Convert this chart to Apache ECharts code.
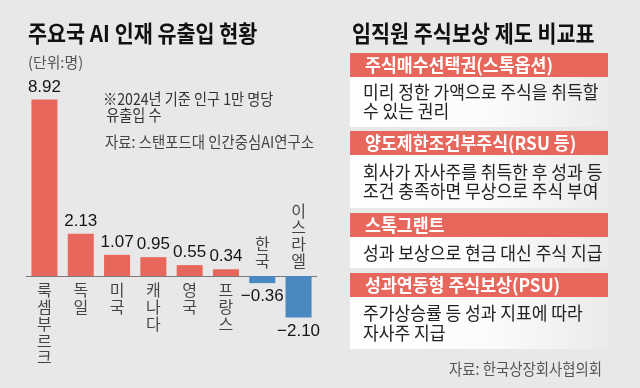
<!DOCTYPE html>
<html><head><meta charset="utf-8">
<script src="https://cdn.jsdelivr.net/npm/echarts@6/dist/echarts.min.js"></script>
<style>html,body{margin:0;padding:0;background:#e8e8e8}#c{width:640px;height:388px}</style>
</head><body><div id="c"></div>
<script>
const categories = ['룩셈부르크','독일','미국','캐나다','영국','프랑스','한국','이스라엘'];
const values = [8.92, 2.13, 1.07, 0.95, 0.55, 0.34, -0.36, -2.10];
const leftTitle = '주요국 AI 인재 유출입 현황';
const unitText = '(단위:명)';
const noteLines = ['※2024년 기준 인구 1만 명당', ' 유출입 수'];
const leftSource = '자료: 스탠포드대 인간중심AI연구소';
const rightTitle = '임직원 주식보상 제도 비교표';
const tableHeaders = ['주식매수선택권(스톡옵션)','양도제한조건부주식(RSU 등)','스톡그랜트','성과연동형 주식보상(PSU)'];
const tableBodies = [
  ['미리 정한 가액으로 주식을 취득할','수 있는 권리'],
  ['회사가 자사주를 취득한 후 성과 등','조건 충족하면 무상으로 주식 부여'],
  ['성과 보상으로 현금 대신 주식 지급'],
  ['주가상승률 등 성과 지표에 따라','자사주 지급']
];
const rightSource = '자료: 한국상장회사협의회';

const KR = '"Noto Sans CJK KR", "Noto Sans", sans-serif';
const NUM = '"Liberation Sans", Arial, sans-serif';
const RED = '#e8675c', BLUE = '#4a88c2';

const chart = echarts.init(document.getElementById('c'), null, {renderer:'canvas'});

const fmt = v => (v < 0 ? '\u2212' : '') + Math.abs(v).toFixed(2);

const barData = values.map(v => ({
  value: v,
  itemStyle: {color: v >= 0 ? RED : BLUE},
  label: {position: v >= 0 ? 'top' : 'bottom', distance: v >= 0 ? 4 : 5}
}));
const catLabelData = categories.map((c, i) => ({
  value: [i, 0],
  label: {position: values[i] >= 0 ? 'bottom' : 'top', distance: values[i] >= 0 ? 6 : 7}
}));

const graphics = [];
function txt(x, y, text, size, color, weight, sx, align) {
  graphics.push({type:'text', x:x, y:y, scaleX: sx || 1, silent:true,
    style:{x:0, y:0, text:text, fill:color, font:(weight||'normal')+' '+size+'px '+KR,
      textAlign: align||'left', textVerticalAlign:'middle'}});
}
txt(28, 33, leftTitle, 23, '#111', 'bold', 0.9);
txt(28, 62, unitText, 15, '#555', 'normal', 0.99);
txt(103, 99, noteLines[0], 16, '#333', 'normal', 0.885);
txt(103, 115, noteLines[1], 16, '#333', 'normal', 0.885);
txt(105, 142, leftSource, 16, '#444', 'normal', 0.9);
txt(352, 33, rightTitle, 23, '#111', 'bold', 0.9);

const boxX = 350, boxW = 258;
const layout = [
  {h:53, b:77, e:127, lines:[92,111]},
  {h:131, b:155, e:208, lines:[172,191]},
  {h:213, b:237, e:268, lines:[253]},
  {h:273, b:297, e:349, lines:[313,333]}
];
layout.forEach((L, i) => {
  graphics.push({type:'rect', silent:true, shape:{x:boxX, y:L.h, width:boxW, height:L.b-L.h}, style:{fill:RED}});
  graphics.push({type:'rect', silent:true, shape:{x:boxX, y:L.b, width:boxW, height:L.e-L.b},
    style:{fill:new echarts.graphic.LinearGradient(0,0,1,0,[{offset:0,color:'#ffffff'},{offset:0.55,color:'#fbfbfb'},{offset:1,color:'#ebebeb'}])}});
  txt(365, (L.h+L.b)/2, tableHeaders[i], 18, '#fff', 'bold', 0.96);
  tableBodies[i].forEach((line, j) => txt(363, L.lines[j], line, 18, '#222', 'normal', 0.95));
});
txt(602, 369, rightSource, 16, '#555', 'normal', 0.9, 'right');

chart.setOption({
  backgroundColor: '#e8e8e8',
  animation: false,
  grid: {left: 26.3, width: 290.4, top: 78, height: 277.2, containLabel: false},
  xAxis: {type:'category', data: categories, axisLine:{onZero:true, lineStyle:{color:'#7a7a7a', width:1}},
    axisTick:{show:false}, axisLabel:{show:false}, splitLine:{show:false}},
  yAxis: {type:'value', min:-4, max:10, show:false, splitLine:{show:false}},
  series: [
    {type:'bar', data: barData, barWidth: 26,
      label:{show:true, formatter: p => fmt(p.value), fontFamily: NUM, fontSize: 17, color:'#151515'}},
    {type:'scatter', data: catLabelData, symbolSize: 0.1, itemStyle:{color:'transparent'}, silent:true, z:5,
      label:{show:true, formatter: p => categories[p.dataIndex].split('').join('\n'),
        fontFamily: KR, fontSize: 16, lineHeight: 16.7, color:'#1a1a1a', align:'center'}}
  ],
  graphic: graphics
});
</script></body></html>
